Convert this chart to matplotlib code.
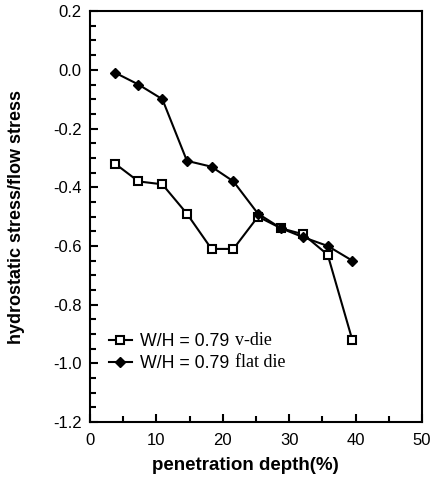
import matplotlib
matplotlib.use("Agg")
import matplotlib.pyplot as plt
from matplotlib.ticker import MultipleLocator

plt.rcParams['font.family'] = ['Liberation Sans', 'DejaVu Sans']

depth = [3.8, 7.3, 10.9, 14.6, 18.3, 21.6, 25.3, 28.8, 32.1, 35.8, 39.5]
v_die = [-0.32, -0.38, -0.39, -0.49, -0.61, -0.61, -0.50, -0.54, -0.56, -0.63, -0.92]
flat_die = [-0.01, -0.05, -0.10, -0.31, -0.33, -0.38, -0.49, -0.54, -0.57, -0.60, -0.65]
series_labels = ["W/H = 0.79", "W/H = 0.79"]
series_suffix = ["v-die", "flat die"]

fig = plt.figure(figsize=(4.41, 4.83), dpi=100)
ax = fig.add_axes([0.204, 0.126, 0.753, 0.851])

l1, = ax.plot(depth, v_die, color='black', lw=1.5, marker='s', ms=6,
              mfc='white', mec='black', mew=1.5, label=series_labels[0])
l2, = ax.plot(depth, flat_die, color='black', lw=1.5, marker='D', ms=5,
              mfc='black', mec='black', label=series_labels[1])

ax.set_xlim(0, 50)
ax.set_ylim(-1.2, 0.2)
ax.xaxis.set_major_locator(MultipleLocator(10))
ax.xaxis.set_minor_locator(MultipleLocator(5))
ax.yaxis.set_major_locator(MultipleLocator(0.2))
ax.yaxis.set_minor_locator(MultipleLocator(0.05))
ax.tick_params(which='both', direction='in', top=False, right=False, width=1.5, labelsize=12)
ax.tick_params(which='major', length=6)
ax.tick_params(which='minor', length=4)
ax.tick_params(axis='x', pad=8)
ax.tick_params(axis='y', pad=6)
for s in ax.spines.values():
    s.set_linewidth(1.5)
ax.set_yticklabels([f"{v:.1f}" for v in ax.get_yticks()])

ax.set_xlabel("penetration depth(%)", fontsize=13.5, fontweight='bold')
ax.set_ylabel("hydrostatic stress/flow stress", fontsize=13, fontweight='bold')
ax.xaxis.set_label_coords(0.467, -0.085)
ax.yaxis.set_label_coords(-0.196, 0.5)

leg = ax.legend(loc='lower left', bbox_to_anchor=(0.035, 0.105), frameon=False,
                handlelength=1.3, fontsize=12.8, labelspacing=0.27, handletextpad=0.45,
                borderaxespad=0.0)
ax.text(0.437, 0.199, series_suffix[0], transform=ax.transAxes, fontsize=13,
        family='Liberation Serif', va='center')
ax.text(0.437, 0.145, series_suffix[1], transform=ax.transAxes, fontsize=13,
        family='Liberation Serif', va='center')

fig.savefig("out.png", dpi=100)
